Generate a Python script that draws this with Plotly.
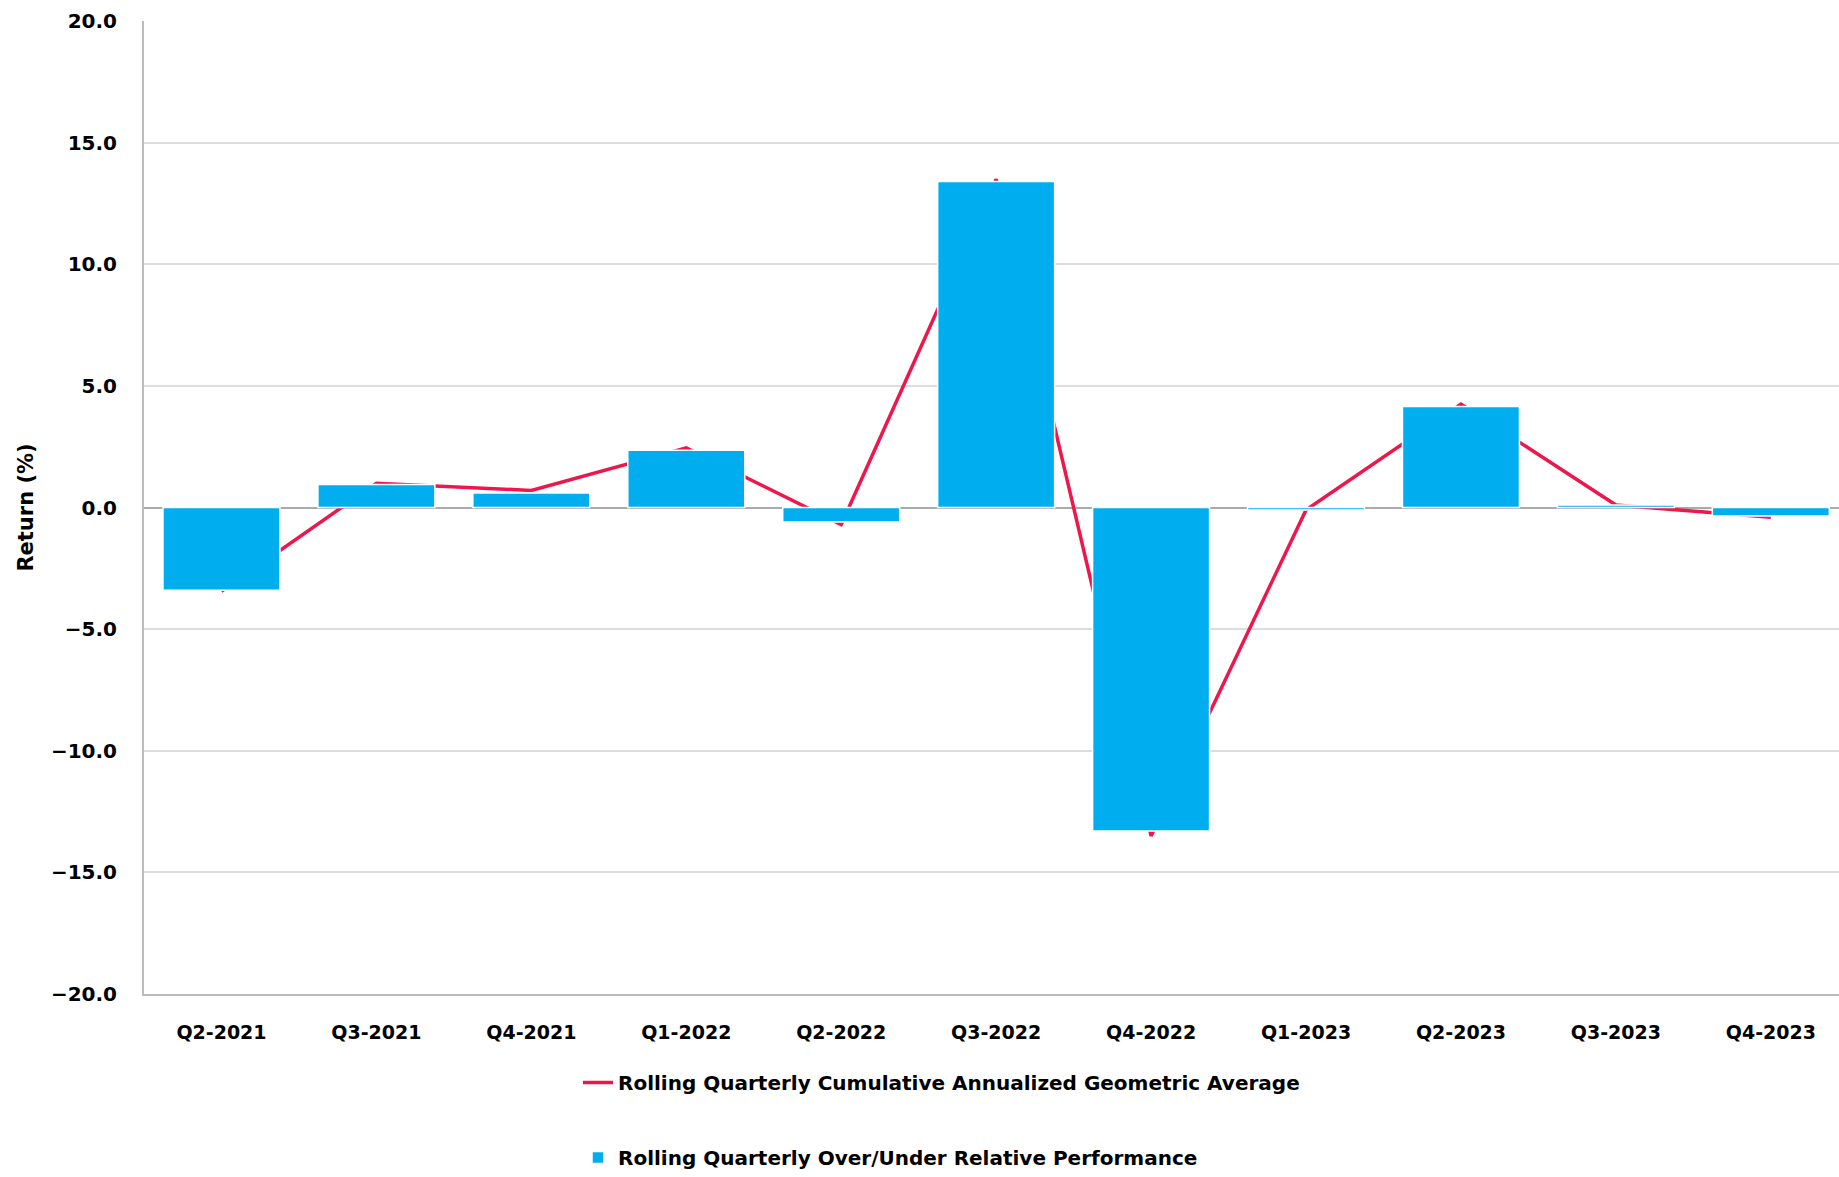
import plotly.graph_objects as go

# Quarter labels on the category axis
quarters = ["Q2-2021", "Q3-2021", "Q4-2021", "Q1-2022", "Q2-2022", "Q3-2022",
            "Q4-2022", "Q1-2023", "Q2-2023", "Q3-2023", "Q4-2023"]

# Rolling quarterly over/under relative performance (%)
relative_perf = [-3.4, 0.95, 0.6, 2.35, -0.6, 13.4, -13.3, -0.1, 4.15, 0.1, -0.35]

# Rolling quarterly cumulative annualized geometric average (%)
geo_average = [-3.45, 1.0, 0.7, 2.45, -0.7, 13.5, -13.5, -0.1, 4.25, 0.1, -0.4]

y_ticks = [-20, -15, -10, -5, 0, 5, 10, 15, 20]

LINE_RED = "#ED174B"
BAR_BLUE = "#00AEEF"
BOLD = "DejaVu Sans"

fig = go.Figure()

# Line sits on the base axis so the bars (on the overlaid axis) draw above it
fig.add_trace(go.Scatter(
    x=quarters, y=geo_average, mode="lines",
    name="Rolling Quarterly Cumulative Annualized Geometric Average",
    line=dict(color=LINE_RED, width=3.5),
    legendgroup="a", yaxis="y",
))

fig.add_trace(go.Bar(
    x=quarters, y=relative_perf,
    name="Rolling Quarterly Over/Under Relative Performance",
    marker=dict(color=BAR_BLUE, line=dict(color="#FFFFFF", width=1.5)),
    width=0.755, legendgroup="b", yaxis="y2",
))

fig.update_layout(
    width=1839, height=1177,
    margin=dict(l=144, r=0, t=21, b=182),
    paper_bgcolor="#FFFFFF", plot_bgcolor="#FFFFFF",
    showlegend=True,
    legend=dict(
        orientation="v",
        xref="paper", yref="paper",
        x=(578 - 144) / 1695, xanchor="left",
        y=-0.0712, yanchor="top",
        font=dict(family=BOLD, size=20, color="#000000", weight=700),
        tracegroupgap=46,
        bgcolor="rgba(0,0,0,0)",
    ),
    xaxis=dict(
        type="category",
        range=[-0.5, 10.44],
        showgrid=False,
        showline=True, linecolor="#BBBBBB", linewidth=2,
        ticks="outside", ticklen=20, tickcolor="rgba(0,0,0,0)",
        tickangle=0,
        tickfont=dict(family=BOLD, size=19, color="#000000", weight=700),
    ),
    yaxis=dict(
        range=[-20, 20],
        tickvals=y_ticks, tickformat=".1f",
        showgrid=True, gridcolor="#DDDDDD", gridwidth=1.5,
        zeroline=True, zerolinecolor="#AAAAAA", zerolinewidth=2,
        showline=True, linecolor="#BBBBBB", linewidth=2,
        ticks="outside", ticklen=21, tickcolor="rgba(0,0,0,0)",
        tickfont=dict(family=BOLD, size=20, color="#000000", weight=700),
        title=dict(text="Return (%)", standoff=12,
                   font=dict(family=BOLD, size=21, color="#000000", weight=700)),
    ),
    yaxis2=dict(
        range=[-20, 20], overlaying="y", visible=False,
        showgrid=False, zeroline=False,
    ),
)

fig.write_html("out.html")
